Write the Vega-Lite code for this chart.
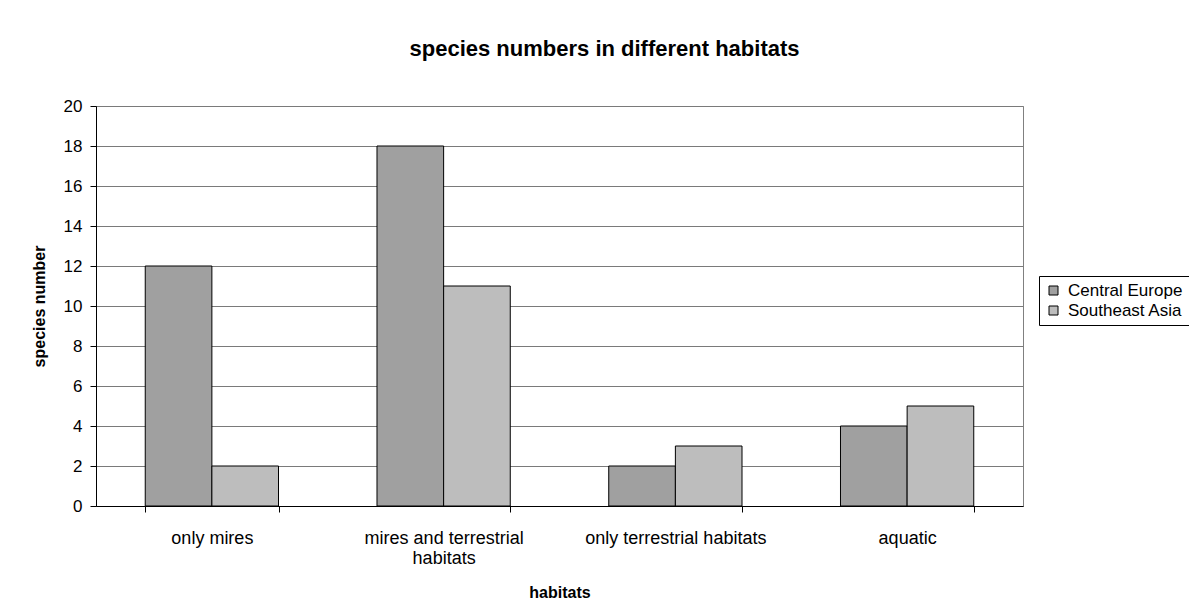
{
  "$schema": "https://vega.github.io/schema/vega-lite/v6.json",
  "autosize": {"type": "none"},
  "width": 927,
  "height": 400,
  "padding": {"left": 96, "top": 106, "right": 166, "bottom": 109},
  "background": "white",
  "title": {
    "text": "species numbers in different habitats",
    "font": "Liberation Sans",
    "fontSize": 22,
    "fontWeight": "bold",
    "color": "black",
    "anchor": "middle",
    "dx": 45,
    "offset": 36
  },
  "data": {
    "values": [
      {"habitat": "only mires", "region": "Central Europe", "species": 12},
      {"habitat": "only mires", "region": "Southeast Asia", "species": 2},
      {"habitat": "mires and terrestrial habitats", "region": "Central Europe", "species": 18},
      {"habitat": "mires and terrestrial habitats", "region": "Southeast Asia", "species": 11},
      {"habitat": "only terrestrial habitats", "region": "Central Europe", "species": 2},
      {"habitat": "only terrestrial habitats", "region": "Southeast Asia", "species": 3},
      {"habitat": "aquatic", "region": "Central Europe", "species": 4},
      {"habitat": "aquatic", "region": "Southeast Asia", "species": 5}
    ]
  },
  "mark": {"type": "bar", "stroke": "black", "strokeWidth": 1},
  "encoding": {
    "x": {
      "field": "habitat",
      "type": "nominal",
      "sort": ["only mires", "mires and terrestrial habitats", "only terrestrial habitats", "aquatic"],
      "scale": {"paddingInner": 0.425, "paddingOuter": 0.2125},
      "axis": {
        "title": "habitats",
        "labelAngle": 0,
        "labelFont": "Liberation Sans",
        "labelFontSize": 18,
        "labelColor": "black",
        "labelPadding": 17,
        "labelLineHeight": 20,
        "labelLimit": 0,
        "labelExpr": "datum.label == 'mires and terrestrial habitats' ? ['mires and terrestrial', 'habitats'] : datum.label",
        "tickBand": "extent",
        "tickSize": 6,
        "tickColor": "black",
        "domainColor": "black",
        "titleFont": "Liberation Sans",
        "titleFontSize": 16,
        "titleFontWeight": "bold",
        "titleColor": "black",
        "titlePadding": 17
      }
    },
    "xOffset": {"field": "region", "type": "nominal", "sort": ["Central Europe", "Southeast Asia"]},
    "y": {
      "field": "species",
      "type": "quantitative",
      "scale": {"domain": [0, 20], "nice": false},
      "axis": {
        "title": "species number",
        "values": [0, 2, 4, 6, 8, 10, 12, 14, 16, 18, 20],
        "labelFont": "Liberation Sans",
        "labelFontSize": 17,
        "labelColor": "black",
        "labelPadding": 8,
        "tickSize": 6,
        "tickColor": "black",
        "domainColor": "black",
        "gridColor": "#7a7a7a",
        "gridWidth": 1,
        "gridOpacity": 1,
        "titleFont": "Liberation Sans",
        "titleFontSize": 16,
        "titleFontWeight": "bold",
        "titleColor": "black",
        "titlePadding": 16
      }
    },
    "fill": {
      "field": "region",
      "type": "nominal",
      "sort": ["Central Europe", "Southeast Asia"],
      "scale": {"domain": ["Central Europe", "Southeast Asia"], "range": ["#a0a0a0", "#bdbdbd"]},
      "legend": {
        "title": null,
        "orient": "none",
        "legendX": 943,
        "legendY": 170,
        "strokeColor": "black",
        "fillColor": "white",
        "padding": 6,
        "labelFont": "Liberation Sans",
        "labelFontSize": 17,
        "labelColor": "black",
        "labelLimit": 0,
        "symbolType": "square",
        "symbolSize": 81,
        "symbolStrokeColor": "black",
        "symbolStrokeWidth": 1,
        "symbolOpacity": 1,
        "rowPadding": 2,
        "labelOffset": 6
      }
    }
  },
  "config": {
    "view": {"stroke": "#808080", "strokeWidth": 1},
    "axis": {"domainWidth": 1, "tickWidth": 1}
  }
}
